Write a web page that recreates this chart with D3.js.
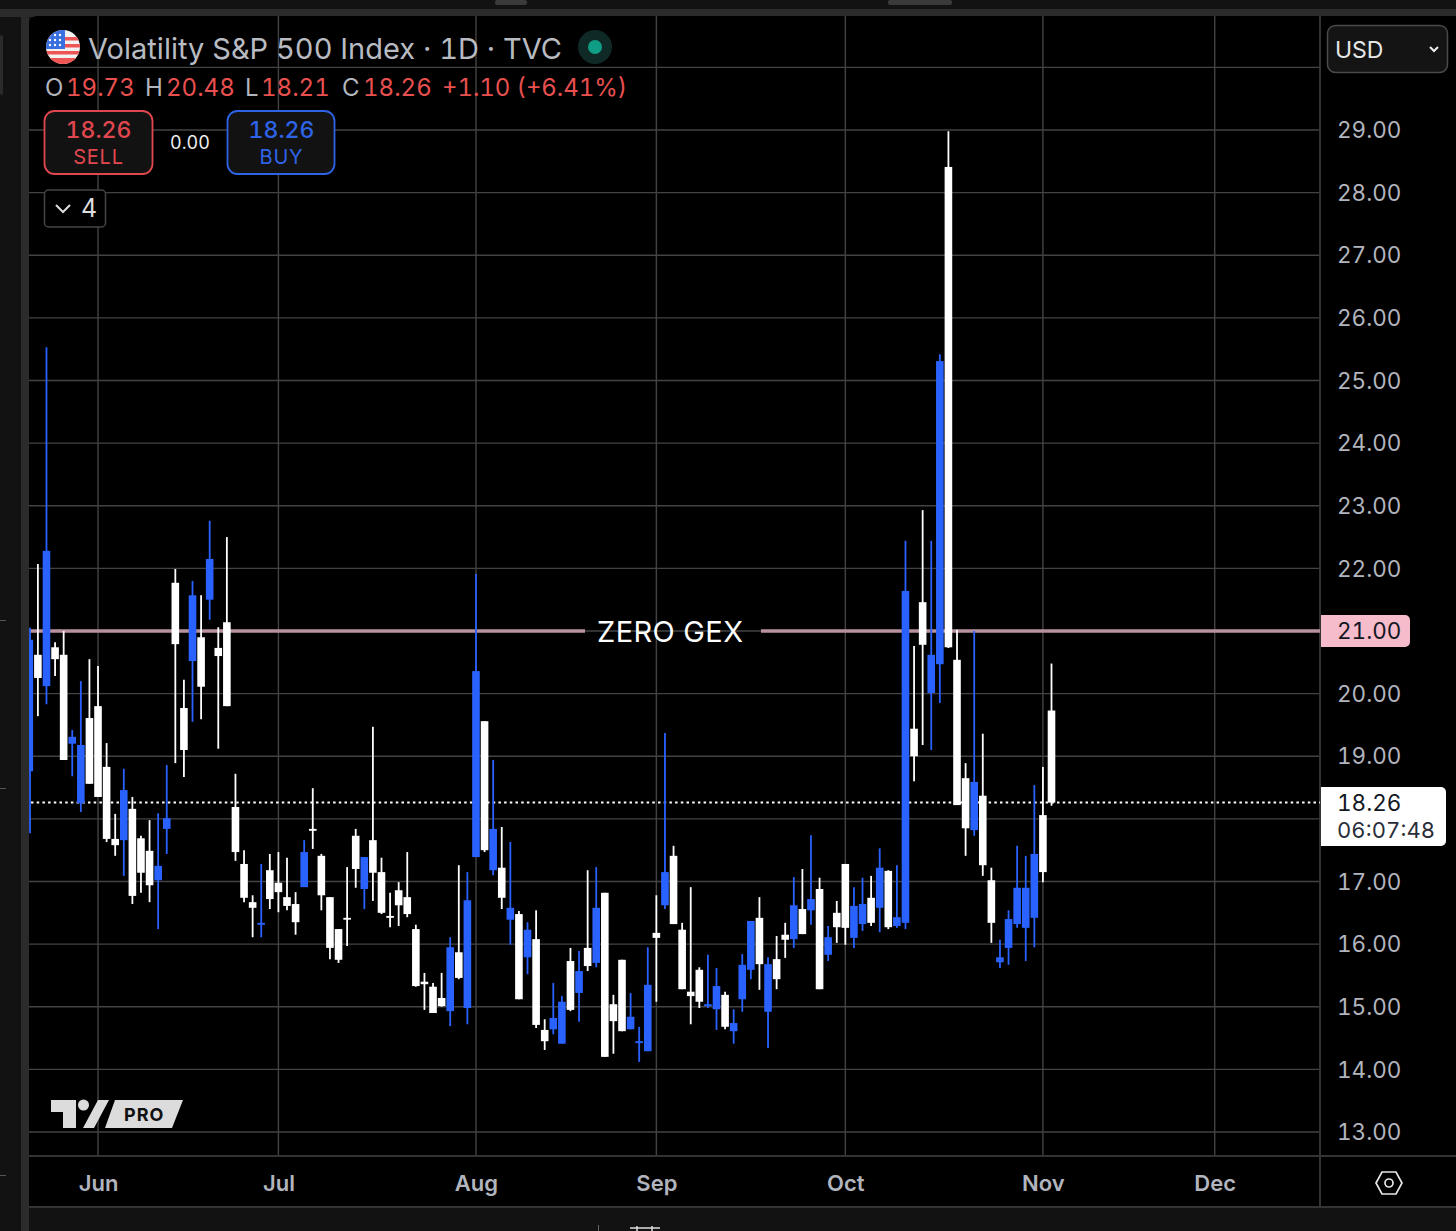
<!DOCTYPE html>
<html>
<head>
<meta charset="utf-8">
<script src="https://cdn.jsdelivr.net/npm/d3@7"></script>
<style>
  html, body { margin: 0; padding: 0; background: #000; overflow: hidden; }
  text { font-family: Inter, "Liberation Sans", sans-serif; font-variant-numeric: tabular-nums; }
</style>
</head>
<body>
<div id="chart"></div>
<script>
// candle values, oldest first (120 daily bars)
const opens = [18.76,20.62,20.12,20.74,20.62,19.20,18.25,19.61,19.80,18.83,17.68,17.66,18.16,17.69,17.49,17.02,17.84,21.77,19.77,20.52,
  20.90,21.50,20.73,21.14,18.19,17.28,16.67,16.31,17.18,16.98,16.75,16.64,16.91,17.84,17.41,16.75,16.24,16.42,17.73,16.88,
  17.66,17.15,16.45,16.86,16.75,16.24,15.40,15.32,15.14,14.93,15.87,14.98,17.39,19.56,17.18,17.22,16.39,16.48,15.79,16.08,
  14.63,14.64,14.41,15.73,15.22,15.94,15.70,16.82,15.04,15.75,14.64,14.42,14.29,16.18,16.62,17.41,16.23,15.24,15.59,15.01,
  14.96,15.19,14.61,15.12,15.59,16.42,14.92,15.76,16.15,16.08,16.56,16.54,16.88,15.83,16.50,17.28,16.10,16.32,16.74,16.58,
  17.17,16.29,16.34,19.44,21.46,20.01,20.47,28.41,20.54,18.65,17.82,18.37,17.02,15.71,15.94,16.32,16.26,16.42,18.06,19.73];
const highs = [21.05,22.07,25.53,20.82,21.00,19.42,20.20,20.55,20.44,19.21,18.08,18.80,18.35,17.73,17.98,18.09,18.86,21.99,20.22,21.80,
  21.57,22.76,21.06,22.50,18.72,17.50,16.78,17.28,17.44,17.47,17.38,16.83,17.66,18.49,17.44,16.75,16.24,17.23,17.84,17.39,
  19.47,17.38,16.82,16.99,17.47,16.31,15.54,15.38,15.54,16.11,17.26,17.15,21.91,19.56,18.94,17.87,17.63,16.53,16.35,16.54,
  14.80,15.38,15.17,15.94,15.89,17.18,17.23,16.82,15.19,15.75,15.22,14.68,15.95,16.78,19.37,17.57,16.34,16.91,15.63,15.83,
  15.62,15.24,14.96,15.84,16.37,16.75,15.79,16.13,16.34,17.07,17.20,17.74,17.06,16.29,16.69,17.28,16.91,17.06,17.09,17.53,
  17.18,17.26,22.44,20.76,22.93,22.44,25.42,28.98,21.02,18.89,21.00,19.36,17.22,16.07,16.54,17.57,17.41,18.54,18.83,20.48];
const lows = [17.77,19.64,19.83,20.28,18.94,18.68,18.11,18.56,18.35,17.63,17.41,17.09,16.64,16.82,16.67,16.24,17.44,18.89,18.67,19.55,
  19.59,21.18,19.12,19.80,17.33,16.67,16.11,16.11,16.56,16.51,16.54,16.15,16.91,17.52,16.54,15.76,15.70,15.97,16.90,16.56,
  16.69,16.48,16.27,16.29,16.43,15.32,14.95,14.90,15.00,14.69,15.44,14.72,17.39,17.47,17.10,16.56,15.99,15.12,15.52,14.66,
  14.31,14.56,14.41,14.93,14.76,15.57,15.63,14.20,14.25,14.61,14.64,14.12,14.29,15.08,16.56,16.32,15.28,14.72,14.98,14.98,
  14.63,14.64,14.41,14.92,15.44,15.27,14.34,15.28,15.78,15.94,16.16,16.31,15.28,15.73,16.02,15.99,15.94,16.21,16.29,16.19,
  16.24,16.26,16.24,18.60,19.18,19.10,19.85,20.73,18.22,17.41,17.73,17.09,16.02,15.62,15.67,16.26,15.73,15.95,16.99,18.21];
const closes = [20.86,20.25,22.28,20.55,18.94,19.31,19.18,18.56,18.35,17.68,17.58,18.46,16.77,17.14,16.94,17.25,18.01,20.79,19.10,21.57,
  20.11,22.15,20.60,19.80,17.47,16.74,16.58,16.34,16.72,16.83,16.61,16.35,17.47,17.81,16.78,15.94,15.75,16.39,17.20,17.39,
  17.14,16.50,16.42,16.62,16.48,15.33,15.36,14.90,15.01,15.95,15.46,16.70,20.36,17.50,17.84,16.74,16.58,15.12,16.23,14.71,
  14.45,14.82,15.08,14.95,15.57,15.65,16.58,14.20,14.77,14.61,14.84,14.45,15.35,16.10,17.15,16.32,15.28,15.17,15.08,15.04,
  15.33,14.68,14.74,15.67,16.37,15.68,15.68,15.44,16.07,16.62,16.16,16.72,15.28,16.11,16.27,16.26,16.61,16.64,16.34,17.22,
  16.27,16.43,21.64,19.00,20.78,20.62,25.31,20.74,18.22,17.85,18.59,17.26,16.34,15.79,16.40,16.90,16.90,17.44,17.15,18.26];

const priceTicks = [13,14,15,16,17,18,19,20,21,22,23,24,25,26,27,28,29,30];
// 30 sits under the currency box, 21 and 18 under the price tags
const priceLabels = priceTicks.filter(d => d < 30 && d !== 21 && d !== 18);
const monthNames = ["Jun","Jul","Aug","Sep","Oct","Nov","Dec"];
const monthBars = [8,29,52,73,95,118,138]; // bar number where each month starts

const zeroGex = 21;
const lastPrice = 18.26;

const UP = "#2962ff", DOWN = "#ffffff", GRID = "#434343", AXISTXT = "#b2b5be";

const width = 1456, height = 1231;
const paneL = 29, paneR = 1320, paneT = 16, paneB = 1156, timeB = 1207;

const svg = d3.select("#chart").append("svg")
  .attr("width", width)
  .attr("height", height)
  .style("display", "block");

// scales: 29 sits on y=130, 13 on y=1132; bars are 8.59px apart
const y = d3.scaleLinear().domain([13, 29]).range([1132, 130]);
const x = d3.scaleLinear().domain([0, 119]).range([29.3, 1051.5]);

// window chrome around the chart
svg.append("rect").attr("width", width).attr("height", height).attr("fill", "#121212");
svg.append("rect").attr("x", 0).attr("y", 9).attr("width", width).attr("height", 8).attr("fill", "#2b2b2b");
svg.append("rect").attr("x", 21).attr("y", 9).attr("width", 8).attr("height", height).attr("fill", "#2b2b2b");
svg.append("path").attr("d", "M0,17H14a7,7 0 0 1 7,7V1231H0Z").attr("fill", "#121212");
svg.append("path")
  .attr("d", `M${paneL + 8},${paneT}H${width}V${timeB}H${paneL}V${paneT + 8}a8,8 0 0 1 8,-8Z`)
  .attr("fill", "#000");
svg.append("rect").attr("x", 0).attr("y", 35).attr("width", 3).attr("height", 60).attr("rx", 2).attr("fill", "#2b2b2b");
svg.append("rect").attr("x", 495).attr("y", 0).attr("width", 32).attr("height", 5).attr("rx", 2).attr("fill", "#3a3a3a");
svg.append("rect").attr("x", 888).attr("y", 0).attr("width", 64).attr("height", 5).attr("rx", 2).attr("fill", "#3a3a3a");
[620, 788, 1175].forEach(t => svg.append("rect").attr("x", 0).attr("y", t).attr("width", 6).attr("height", 1).attr("fill", "#555"));
// bits of the toolbar cut off by the bottom edge
svg.append("rect").attr("x", 598).attr("y", 1225).attr("width", 1).attr("height", 6).attr("fill", "#666");
svg.append("path").attr("d", "M630,1228H660M637,1226V1231M652,1226V1231").attr("fill", "none").attr("stroke", "#ddd").attr("stroke-width", 1.5);

// grid
svg.append("g").selectAll("line").data(priceTicks).join("line")
  .attr("x1", paneL).attr("x2", paneR)
  .attr("y1", d => y(d)).attr("y2", d => y(d))
  .attr("stroke", GRID).attr("stroke-width", 1.4);
svg.append("g").selectAll("line").data(monthBars).join("line")
  .attr("x1", d => x(d)).attr("x2", d => x(d))
  .attr("y1", paneT).attr("y2", paneB)
  .attr("stroke", GRID).attr("stroke-width", 1.4);

// axis frame
svg.append("line").attr("x1", paneL).attr("x2", width).attr("y1", paneB).attr("y2", paneB).attr("stroke", "#333").attr("stroke-width", 2);
svg.append("line").attr("x1", paneR).attr("x2", paneR).attr("y1", paneT).attr("y2", timeB).attr("stroke", "#333").attr("stroke-width", 2);
svg.append("line").attr("x1", paneL).attr("x2", width).attr("y1", timeB).attr("y2", timeB).attr("stroke", "#333").attr("stroke-width", 2);

// zero gex level with its label sitting in a gap
svg.append("line").attr("x1", paneL).attr("x2", 585).attr("y1", y(zeroGex)).attr("y2", y(zeroGex))
  .attr("stroke", "#b8929c").attr("stroke-width", 3.5);
svg.append("line").attr("x1", 761).attr("x2", paneR).attr("y1", y(zeroGex)).attr("y2", y(zeroGex))
  .attr("stroke", "#b8929c").attr("stroke-width", 3.5);

// last price dotted line
svg.append("line").attr("x1", paneL + 2).attr("x2", paneR).attr("y1", y(lastPrice)).attr("y2", y(lastPrice))
  .attr("stroke", "#fff").attr("stroke-width", 2).attr("stroke-dasharray", "2.5 3.2");

// candles
const bars = d3.range(opens.length).map(i => ({i, o: opens[i], h: highs[i], l: lows[i], c: closes[i]}));
const plot = svg.append("g");
plot.selectAll("line.wick").data(bars).join("line")
  .attr("class", "wick")
  .attr("x1", d => Math.max(x(d.i), paneL + 1)).attr("x2", d => Math.max(x(d.i), paneL + 1))
  .attr("y1", d => y(d.h)).attr("y2", d => y(d.l))
  .attr("stroke", d => d.c > d.o ? UP : DOWN).attr("stroke-width", 1.8);
plot.selectAll("rect.body").data(bars).join("rect")
  .attr("class", "body")
  .attr("x", d => Math.max(x(d.i) - 3.8, paneL))
  .attr("width", d => x(d.i) + 3.8 - Math.max(x(d.i) - 3.8, paneL))
  .attr("y", d => y(Math.max(d.o, d.c)))
  .attr("height", d => Math.max(1.5, Math.abs(y(d.o) - y(d.c))))
  .attr("fill", d => d.c > d.o ? UP : DOWN);

// the label goes over the candles that cross the line
svg.append("text").attr("x", 670).attr("y", y(zeroGex) + 11).attr("text-anchor", "middle")
  .attr("font-size", 29).attr("fill", "#fff").attr("textLength", 146).text("ZERO GEX");

// price axis
const yAxis = d3.axisRight(y).tickValues(priceLabels).tickFormat(d3.format(".2f")).tickSize(0).tickPadding(0);
const yG = svg.append("g").attr("transform", `translate(1337,0.5)`).call(yAxis);
yG.select(".domain").remove();
yG.selectAll("text").attr("font-size", 22.5).attr("fill", AXISTXT)
  .style("font-family", "Inter");

// time axis
const xAxis = d3.axisBottom(x).tickValues(monthBars).tickFormat((d, i) => monthNames[i]).tickSize(0).tickPadding(0);
const xG = svg.append("g").attr("transform", "translate(0,1175)").call(xAxis);
xG.select(".domain").remove();
xG.selectAll("text").attr("font-size", 22).attr("font-weight", 600).attr("fill", AXISTXT).style("font-family", "Inter");

// price tags
svg.append("path").attr("d", "M1321,615H1405a5,5 0 0 1 5,5V642a5,5 0 0 1 -5,5H1321Z").attr("fill", "#f7bccb");
svg.append("text").attr("x", 1337).attr("y", y(zeroGex) + 8).attr("font-size", 22.5)
  .attr("fill", "#131722").text(d3.format(".2f")(zeroGex));
svg.append("path").attr("d", "M1321,787H1441a5,5 0 0 1 5,5V841a5,5 0 0 1 -5,5H1321Z").attr("fill", "#fff");
svg.append("text").attr("x", 1337).attr("y", 811).attr("font-size", 22.5)
  .attr("fill", "#131722").text(d3.format(".2f")(lastPrice));
svg.append("text").attr("x", 1337).attr("y", 838).attr("font-size", 22).attr("textLength", 98)
  .attr("fill", "#2a2e39").text("06:07:48");

// currency box
svg.append("rect").attr("x", 1327.5).attr("y", 25.5).attr("width", 120).attr("height", 47).attr("rx", 8)
  .attr("fill", "#141414").attr("stroke", "#4a4a4a").attr("stroke-width", 1.5);
svg.append("text").attr("x", 1335).attr("y", 58).attr("font-size", 23).attr("fill", "#e6e6e6").text("USD");
svg.append("path").attr("d", "M1430,47l4,4l4,-4").attr("fill", "none").attr("stroke", "#eee").attr("stroke-width", 2);

// settings hexagon at the axis corner
svg.append("path").attr("d", "M1376,1183l6,-11h14l6,11l-6,11h-14Z").attr("fill", "none").attr("stroke", "#e6e6e6").attr("stroke-width", 1.7);
svg.append("circle").attr("cx", 1389).attr("cy", 1183).attr("r", 4).attr("fill", "none").attr("stroke", "#e6e6e6").attr("stroke-width", 1.7);

// legend: flag
const flag = svg.append("g");
const clip = svg.append("clipPath").attr("id", "flagClip");
clip.append("circle").attr("cx", 63).attr("cy", 47).attr("r", 17);
flag.attr("clip-path", "url(#flagClip)");
flag.append("rect").attr("x", 46).attr("y", 30).attr("width", 34).attr("height", 34).attr("fill", "#f2f2f2");
[37, 44, 51, 58].forEach(t => flag.append("rect").attr("x", 46).attr("y", t).attr("width", 34).attr("height", 3.5).attr("fill", "#ee5555"));
flag.append("rect").attr("x", 46).attr("y", 58).attr("width", 34).attr("height", 7).attr("fill", "#ee5555");
flag.append("rect").attr("x", 46).attr("y", 30).attr("width", 19).attr("height", 19).attr("fill", "#3a6fe0");
[[50,35],[55,35],[60,35],[50,40],[55,40],[60,40],[50,45],[55,45],[60,45]].forEach(p =>
  flag.append("circle").attr("cx", p[0]).attr("cy", p[1]).attr("r", 1.2).attr("fill", "#fff"));

svg.append("text").attr("x", 88).attr("y", 59).attr("font-size", 29).attr("fill", "#b8bbc2")
  .attr("textLength", 474).text("Volatility S&P 500 Index · 1D · TVC");
svg.append("circle").attr("cx", 595).attr("cy", 47).attr("r", 17).attr("fill", "#0f2a26");
svg.append("circle").attr("cx", 595).attr("cy", 47).attr("r", 7).attr("fill", "#0f9d86");

// OHLC line
const ohlc = [["O", "19.73", 45], ["H", "20.48", 145], ["L", "18.21", 245], ["C", "18.26", 342]];
ohlc.forEach(r => {
  svg.append("text").attr("x", r[2]).attr("y", 96).attr("font-size", 24).attr("fill", "#b2b5be").text(r[0]);
  svg.append("text").attr("x", r[2] + (r[0] === "L" ? 16 : 21)).attr("y", 96).attr("font-size", 24)
    .attr("fill", "#e8504f").text(r[1]);
});
svg.append("text").attr("x", 442).attr("y", 96).attr("font-size", 24).attr("textLength", 185).attr("fill", "#e8504f").text("+1.10 (+6.41%)");

// sell / buy buttons
svg.append("rect").attr("x", 44.5).attr("y", 111).attr("width", 108).attr("height", 63).attr("rx", 10)
  .attr("fill", "#121212").attr("stroke", "#e0474f").attr("stroke-width", 1.8);
svg.append("text").attr("x", 98.5).attr("y", 138).attr("text-anchor", "middle").attr("font-size", 23).attr("font-weight", 500).attr("fill", "#e0474f").text("18.26");
svg.append("text").attr("x", 98.5).attr("y", 164).attr("text-anchor", "middle").attr("font-size", 20).attr("letter-spacing", 0.8).attr("fill", "#e0474f").text("SELL");
svg.append("text").attr("x", 190).attr("y", 149).attr("text-anchor", "middle").attr("font-size", 18).attr("fill", "#eee").text("0.00");
svg.append("rect").attr("x", 227.5).attr("y", 111).attr("width", 107).attr("height", 63).attr("rx", 10)
  .attr("fill", "#121212").attr("stroke", "#2e63e6").attr("stroke-width", 1.8);
svg.append("text").attr("x", 281.5).attr("y", 138).attr("text-anchor", "middle").attr("font-size", 23).attr("font-weight", 500).attr("fill", "#2e63e6").text("18.26");
svg.append("text").attr("x", 281.5).attr("y", 164).attr("text-anchor", "middle").attr("font-size", 20).attr("letter-spacing", 0.8).attr("fill", "#2e63e6").text("BUY");

// indicators toggle
svg.append("rect").attr("x", 44.5).attr("y", 190).attr("width", 61).attr("height", 37).attr("rx", 4)
  .attr("fill", "#000").attr("stroke", "#444").attr("stroke-width", 1.5);
svg.append("path").attr("d", "M56,205l7,7l7,-7").attr("fill", "none").attr("stroke", "#ddd").attr("stroke-width", 2);
svg.append("text").attr("x", 81).attr("y", 217).attr("font-size", 25).attr("fill", "#ddd").text("4");

// logo
svg.append("path").attr("d", "M51,1100H76V1128H63V1112H51Z").attr("fill", "#dcdcdc");
svg.append("circle").attr("cx", 83.5).attr("cy", 1105).attr("r", 5.5).attr("fill", "#dcdcdc");
svg.append("path").attr("d", "M98,1100H109L94,1128H83Z").attr("fill", "#dcdcdc");
svg.append("path").attr("d", "M115,1100H183L172,1128H105Z").attr("fill", "#dcdcdc");
svg.append("text").attr("x", 124).attr("y", 1121).attr("font-size", 18).attr("font-weight", 700).attr("letter-spacing", 1).attr("fill", "#111").text("PRO");
</script>
</body>
</html>
